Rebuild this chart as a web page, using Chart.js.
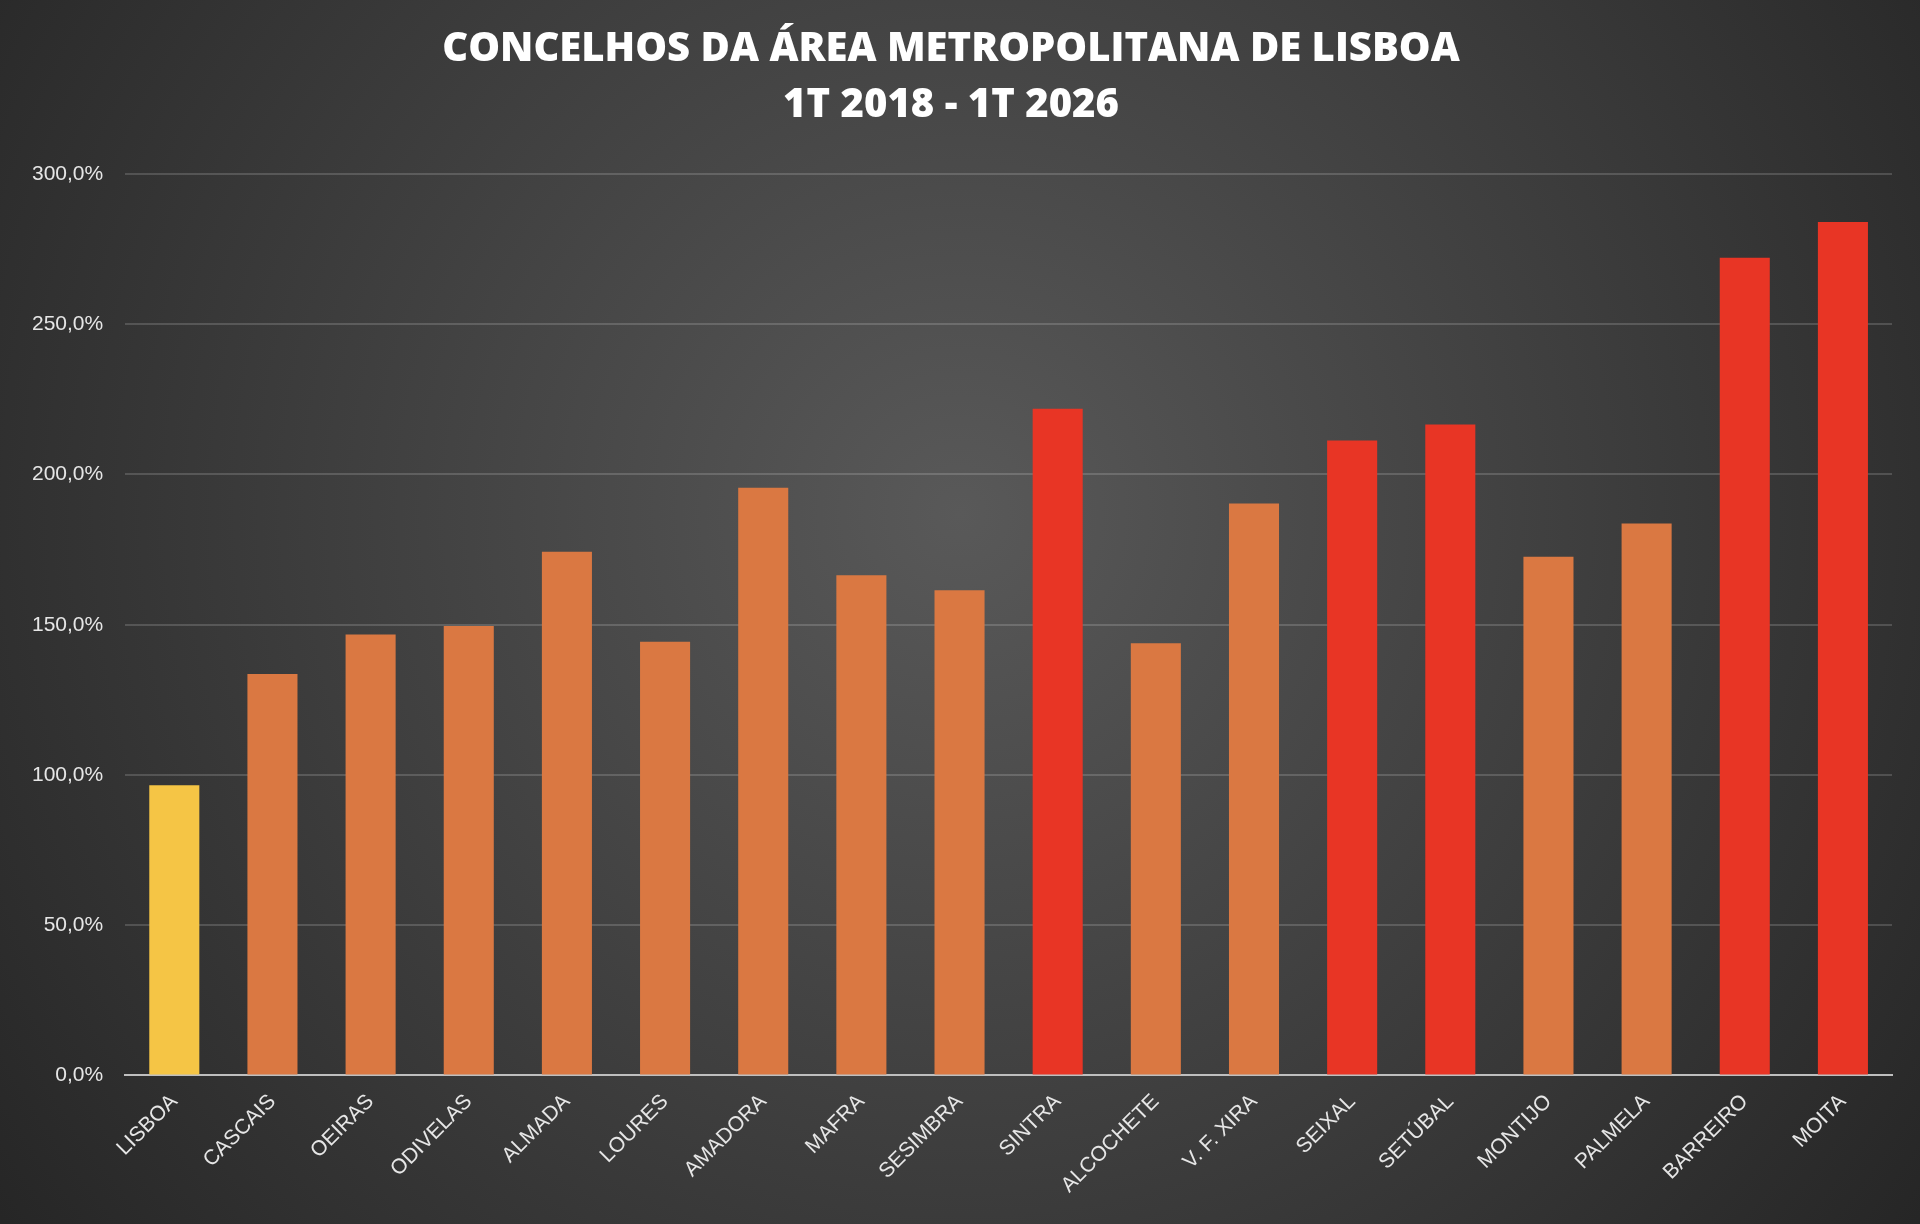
<!DOCTYPE html>
<html>
<head>
<meta charset="utf-8">
<script src="https://cdn.jsdelivr.net/npm/chart.js@4.4.1/dist/chart.umd.min.js"></script>
<style>
html, body { margin: 0; padding: 0; background: #2b2b2b; }
#wrap { width: 1920px; height: 1224px; }
</style>
</head>
<body>
<div id="wrap"><canvas id="chart"></canvas></div>
<script>
// Concelhos da AML, variação 1T 2018 - 1T 2026
const concelhos = ['LISBOA', 'CASCAIS', 'OEIRAS', 'ODIVELAS', 'ALMADA', 'LOURES', 'AMADORA', 'MAFRA', 'SESIMBRA',
    'SINTRA', 'ALCOCHETE', 'V. F. XIRA', 'SEIXAL', 'SETÚBAL', 'MONTIJO', 'PALMELA', 'BARREIRO', 'MOITA'];
const variacao = [96.6, 133.6, 146.7, 149.6, 174.3, 144.3, 195.6, 166.5, 161.5,
    221.9, 143.8, 190.3, 211.3, 216.6, 172.6, 183.7, 272.1, 284.0];
const cores = ['#F5C545', '#DA7842', '#DA7842', '#DA7842', '#DA7842', '#DA7842', '#DA7842', '#DA7842', '#DA7842',
    '#E83525', '#DA7842', '#DA7842', '#E83525', '#E83525', '#DA7842', '#DA7842', '#E83525', '#E83525'];
const titulo = ['CONCELHOS DA ÁREA METROPOLITANA DE LISBOA', '1T 2018 - 1T 2026'];

const fundo = {
    id: 'fundo',
    beforeDraw(chart) {
        const { ctx, width, height } = chart;
        const g = ctx.createRadialGradient(width * 0.5, height * 0.42, 0, width * 0.5, height * 0.42, width * 0.62);
        g.addColorStop(0, '#595959');
        g.addColorStop(1, '#262626');
        ctx.save();
        ctx.fillStyle = g;
        ctx.fillRect(0, 0, width, height);
        ctx.restore();
    }
};

new Chart(document.getElementById('chart'), {
    type: 'bar',
    data: {
        labels: concelhos,
        datasets: [{
            data: variacao,
            backgroundColor: cores,
            barPercentage: 0.51,
            categoryPercentage: 1
        }]
    },
    options: {
        responsive: true,
        maintainAspectRatio: false,
        animation: false,
        layout: { padding: { left: 10, right: 28, top: 22, bottom: 20 } },
        plugins: {
            legend: { display: false },
            tooltip: { enabled: false },
            title: {
                display: true,
                text: titulo,
                color: '#FFFFFF',
                font: { family: 'Open Sans', size: 40, weight: '800', lineHeight: 1.4 },
                padding: { top: 0, bottom: 40 }
            }
        },
        scales: {
            x: {
                grid: { display: false },
                border: { color: '#BFBFBF', width: 2 },
                ticks: {
                    color: '#E6E6E6',
                    font: { family: 'Liberation Sans', size: 21 },
                    maxRotation: 45,
                    minRotation: 45,
                    padding: 6
                }
            },
            y: {
                min: 0,
                max: 300,
                grid: { color: 'rgba(255, 255, 255, 0.16)', lineWidth: 2, drawTicks: false },
                border: { display: false },
                ticks: {
                    stepSize: 50,
                    color: '#E6E6E6',
                    padding: 22,
                    font: { family: 'Liberation Sans', size: 21 },
                    callback: function(value) {
                        return value.toFixed(1).replace('.', ',') + '%';
                    }
                }
            }
        }
    },
    plugins: [fundo]
});
</script>
</body>
</html>
